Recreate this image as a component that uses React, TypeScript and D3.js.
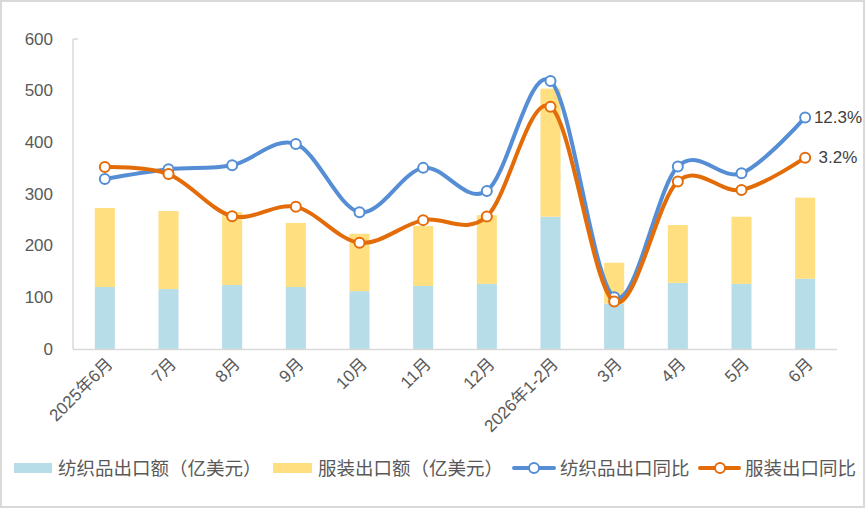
import React from "react";
import * as d3 from "d3";

const categories = ["2025年6月", "7月", "8月", "9月", "10月", "11月", "12月", "2026年1-2月", "3月", "4月", "5月", "6月"];
const textileExport = [120, 116, 124, 120, 112, 122, 126, 256, 88, 128, 126, 136];
const apparelExport = [153, 151, 141, 124, 111, 116, 133, 248, 79, 112, 130, 157];
const textileYoY = [-1.6, 0.6, 1.5, 6.3, -9.1, 0.9, -4.3, 20.5, -28.3, 1.2, -0.3, 12.3];
const apparelYoY = [1.1, -0.5, -10.0, -7.9, -16.0, -10.9, -10.1, 14.7, -29.3, -2.2, -4.1, 3.2];
const yTicks = [0, 100, 200, 300, 400, 500, 600];
const legendLabels = ["纺织品出口额（亿美元）", "服装出口额（亿美元）", "纺织品出口同比", "服装出口同比"];

const W = 867, H = 509;
const C_TEX = "#B7DDE8", C_APP = "#FFDF80", C_BLUE = "#558ED5", C_ORANGE = "#E36C09";
const FONT = "'Liberation Sans', Arial, 'Noto Sans CJK SC', sans-serif";

export default function App() {
  const x = d3.scaleBand<string>().domain(categories).range([73, 837]).padding(0);
  const y = d3.scaleLinear().domain([0, 600]).range([349, 39]);
  const y2 = d3.scaleLinear().domain([-40, 30]).range([349, 39]);
  const cx = (i: number) => (x(categories[i]) as number) + x.bandwidth() / 2;
  const bw = x.bandwidth() * 0.315;
  const line = d3.line<number>().x((_, i) => cx(i)).y((d) => y2(d)).curve(d3.curveCardinal.tension(0));

  const series = [
    { vals: textileYoY, color: C_BLUE },
    { vals: apparelYoY, color: C_ORANGE },
  ];

  return (
    <svg width={W} height={H} style={{ position: "fixed", left: 0, top: 0, fontFamily: FONT }}>
      <rect x={1} y={1} width={W - 4} height={H - 3} fill="#fff" stroke="#D9D9D9" strokeWidth={2} />
      {/* y axis */}
      <line x1={73} x2={73} y1={39} y2={349} stroke="#D9D9D9" strokeWidth={1.5} />
      <line x1={73} x2={78} y1={39} y2={39} stroke="#D9D9D9" strokeWidth={1.5} />
      {yTicks.map((t) => (
        <text key={t} x={53} y={y(t)} textAnchor="end" dominantBaseline="central" fontSize={17} fill="#595959">{t}</text>
      ))}
      {/* bars */}
      {categories.map((c, i) => (
        <g key={c}>
          <rect x={cx(i) - bw / 2} y={y(textileExport[i])} width={bw} height={y(0) - y(textileExport[i])} fill={C_TEX} />
          <rect x={cx(i) - bw / 2} y={y(textileExport[i] + apparelExport[i])} width={bw} height={y(textileExport[i]) - y(textileExport[i] + apparelExport[i])} fill={C_APP} />
        </g>
      ))}
      <line x1={73} x2={837} y1={349.5} y2={349.5} stroke="#D9D9D9" strokeWidth={1.5} />
      {categories.map((c, i) => (
        <text key={c} transform={`translate(${cx(i) + 5},${361}) rotate(-45)`} textAnchor="end" dominantBaseline="central" fontSize={17} fill="#595959">{c}</text>
      ))}
      {/* lines */}
      {series.map((s, k) => (
        <g key={k}>
          <path d={line(s.vals) as string} fill="none" stroke={s.color} strokeWidth={4} strokeLinejoin="round" strokeLinecap="round" />
          {s.vals.map((v, i) => (
            <circle key={i} cx={cx(i)} cy={y2(v)} r={5} fill="#fff" stroke={s.color} strokeWidth={2} />
          ))}
        </g>
      ))}
      <text x={838} y={y2(textileYoY[11])} textAnchor="middle" dominantBaseline="central" fontSize={17} fill="#404040">{textileYoY[11].toFixed(1)}%</text>
      <text x={838} y={y2(apparelYoY[11])} textAnchor="middle" dominantBaseline="central" fontSize={17} fill="#404040">{apparelYoY[11].toFixed(1)}%</text>
      {/* legend */}
      <g fontSize={18.5} fill="#595959">
        <rect x={14} y={463} width={38} height={10} fill={C_TEX} />
        <text x={58} y={468} dominantBaseline="central">{legendLabels[0]}</text>
        <rect x={273} y={463} width={39} height={10} fill={C_APP} />
        <text x={318} y={468} dominantBaseline="central">{legendLabels[1]}</text>
        <line x1={514} x2={554} y1={468} y2={468} stroke={C_BLUE} strokeWidth={4} strokeLinecap="round" />
        <circle cx={534} cy={468} r={5} fill="#fff" stroke={C_BLUE} strokeWidth={2} />
        <text x={560} y={468} dominantBaseline="central">{legendLabels[2]}</text>
        <line x1={700} x2={739} y1={468} y2={468} stroke={C_ORANGE} strokeWidth={4} strokeLinecap="round" />
        <circle cx={720} cy={468} r={5} fill="#fff" stroke={C_ORANGE} strokeWidth={2} />
        <text x={745} y={468} dominantBaseline="central">{legendLabels[3]}</text>
      </g>
    </svg>
  );
}
